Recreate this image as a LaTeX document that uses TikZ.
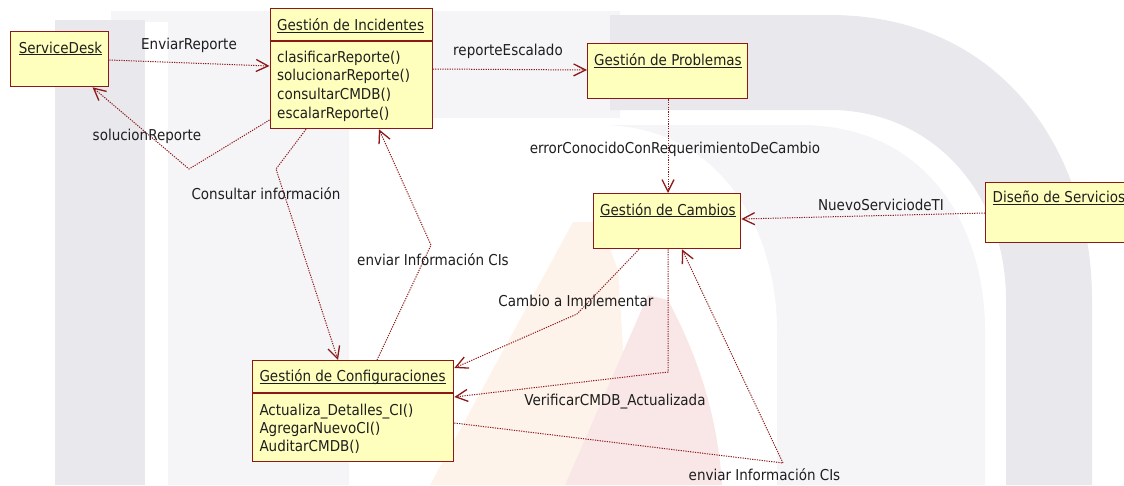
\documentclass[tikz,border=0pt]{standalone}
\usepackage{fontspec}
\setmainfont{DejaVu Sans Condensed}
\usetikzlibrary{arrows.meta}

\definecolor{boxfill}{RGB}{255,255,189}
\definecolor{boxline}{RGB}{140,24,24}
\definecolor{txt}{RGB}{30,30,30}
\definecolor{wmgray}{RGB}{232,232,237}
\definecolor{wmlight}{RGB}{245,245,248}
\definecolor{wmorange}{RGB}{254,243,234}
\definecolor{wmpink}{RGB}{249,231,231}

\newcommand{\uttl}[1]{\underline{\smash{#1}}}

\begin{document}
\begin{tikzpicture}[x=1pt,y=-1pt,
  font=\fontsize{15}{18}\selectfont,
  classbox/.style={draw=boxline, fill=boxfill, line width=1.3pt, inner sep=0pt,
    anchor=north west, rectangle},
  txtline/.style={anchor=base west, inner sep=0pt, text=txt},
  lbl/.style={anchor=base, inner sep=0pt, text=txt},
  sepline/.style={draw=boxline, line width=1.3pt},
  dep/.style={draw=boxline, line width=1pt, dash pattern=on 1.2pt off 1.2pt,
    -{Straight Barb[length=12pt,width=12pt,line width=1.3pt]}},
]
\useasboundingbox (0,0) rectangle (1124,485);
\clip (0,0) rectangle (1124,485);

% faint background emblem
\fill[wmlight] (111,11) -- (620,11) -- (620,118) -- (349,118) -- (349,485)
  -- (168,485) -- (168,22) -- (111,22) -- cycle;
\fill[wmgray] (55,20) rectangle (145,485);
\fill[wmlight] (600,125) -- (800,125) .. controls (930,125) and (985,230) .. (985,330)
  -- (985,485) -- (777,485) -- (777,330) .. controls (777,230) and (720,125) .. (600,125) -- cycle;
\fill[wmgray] (610,15) -- (830,15) .. controls (1000,15) and (1092,150) .. (1092,300)
  -- (1092,485) -- (1006,485) -- (1006,300) .. controls (1006,190) and (930,110) .. (830,110)
  -- (610,110) -- cycle;
\fill[wmorange] (573,222) -- (600,222) -- (618,270) -- (632,485) -- (430,485) -- cycle;
\fill[wmpink] (648,295) -- (668,300) .. controls (700,360) and (718,420) .. (722,485)
  -- (565,485) -- cycle;

% classes
\node[classbox, minimum width=98.5pt, minimum height=55pt] (sd) at (9.5,31) {};
\node[txtline] (sdt) at (18.6,53) {\uttl{ServiceDesk}};

\node[classbox, minimum width=162pt, minimum height=120pt] (inc) at (269.5,8) {};
\draw[sepline] (inc.west |- 0,41) -- (inc.east |- 0,41);
\node[txtline] (inct) at (277,30.5) {\uttl{Gestión de Incidentes}};
\node[txtline] (m1) at (277,62) {clasificarReporte()};
\node[txtline] (m2) at (277,80.7) {solucionarReporte()};
\node[txtline] (m3) at (277,99.3) {consultarCMDB()};
\node[txtline] (m4) at (277,118) {escalarReporte()};

\node[classbox, minimum width=160pt, minimum height=55pt] (prob) at (587,43) {};
\node[txtline] (probt) at (594,65.5) {\uttl{Gestión de Problemas}};

\node[classbox, minimum width=147pt, minimum height=55pt] (camb) at (593,193) {};
\node[txtline] (cambt) at (600,215) {\uttl{Gestión de Cambios}};

\node[classbox, minimum width=170pt, minimum height=60pt] (dis) at (985,182) {};
\node[txtline] (dist) at (992.5,202.7) {\uttl{Diseño de Servicios}};

\node[classbox, minimum width=201pt, minimum height=101pt] (conf) at (252,360) {};
\draw[sepline] (conf.west |- 0,393) -- (conf.east |- 0,393);
\node[txtline] (conft) at (259.3,381.7) {\uttl{Gestión de Configuraciones}};
\node[txtline] (c1) at (259.3,415) {Actualiza\_Detalles\_CI()};
\node[txtline] (c2) at (259.3,433.3) {AgregarNuevoCI()};
\node[txtline] (c3) at (259.3,451.7) {AuditarCMDB()};

% dependencies
\draw[dep] (sd.east |- 0,60) -- (inc.west |- 0,66);
\draw[dep] (inc.west |- 0,120) -- (189,169) -- (92.5,0 |- sd.south);
\draw[dep] (inc.east |- 0,69) -- (prob.west |- 0,70);
\draw[dep] (668,0 |- prob.south) -- (668,0 |- camb.north);
\draw[dep] (dis.west |- 0,213) -- (camb.east |- 0,219);
\draw[dep] (306,0 |- inc.south) -- (276,169) -- (338,0 |- conf.north);
\draw[dep] (377,0 |- conf.north) -- (431,245) -- (379,0 |- inc.south);
\draw[dep] (639,0 |- camb.south) -- (577,314) -- (conf.east |- 0,368);
\draw[dep] (668,0 |- camb.south) -- (668,372) -- (conf.east |- 0,397);
\draw[dep] (conf.east |- 0,423) -- (783,463) -- (682,0 |- camb.south);

% labels
\node[lbl] (l1) at (189,49.5) {EnviarReporte};
\node[lbl] (l2) at (147,140) {solucionReporte};
\node[lbl] (l3) at (508,55.5) {reporteEscalado};
\node[lbl] (l4) at (675,153) {errorConocidoConRequerimientoDeCambio};
\node[lbl] (l5) at (881,210) {NuevoServiciodeTI};
\node[lbl] (l6) at (266,199) {Consultar información};
\node[lbl] (l7) at (433,265.7) {enviar Información CIs};
\node[lbl] (l8) at (576,306.7) {Cambio a Implementar};
\node[lbl] (l9) at (615,405) {VerificarCMDB\_Actualizada};
\node[lbl] (l10) at (764.5,480) {enviar Información CIs};
\end{tikzpicture}
\end{document}
